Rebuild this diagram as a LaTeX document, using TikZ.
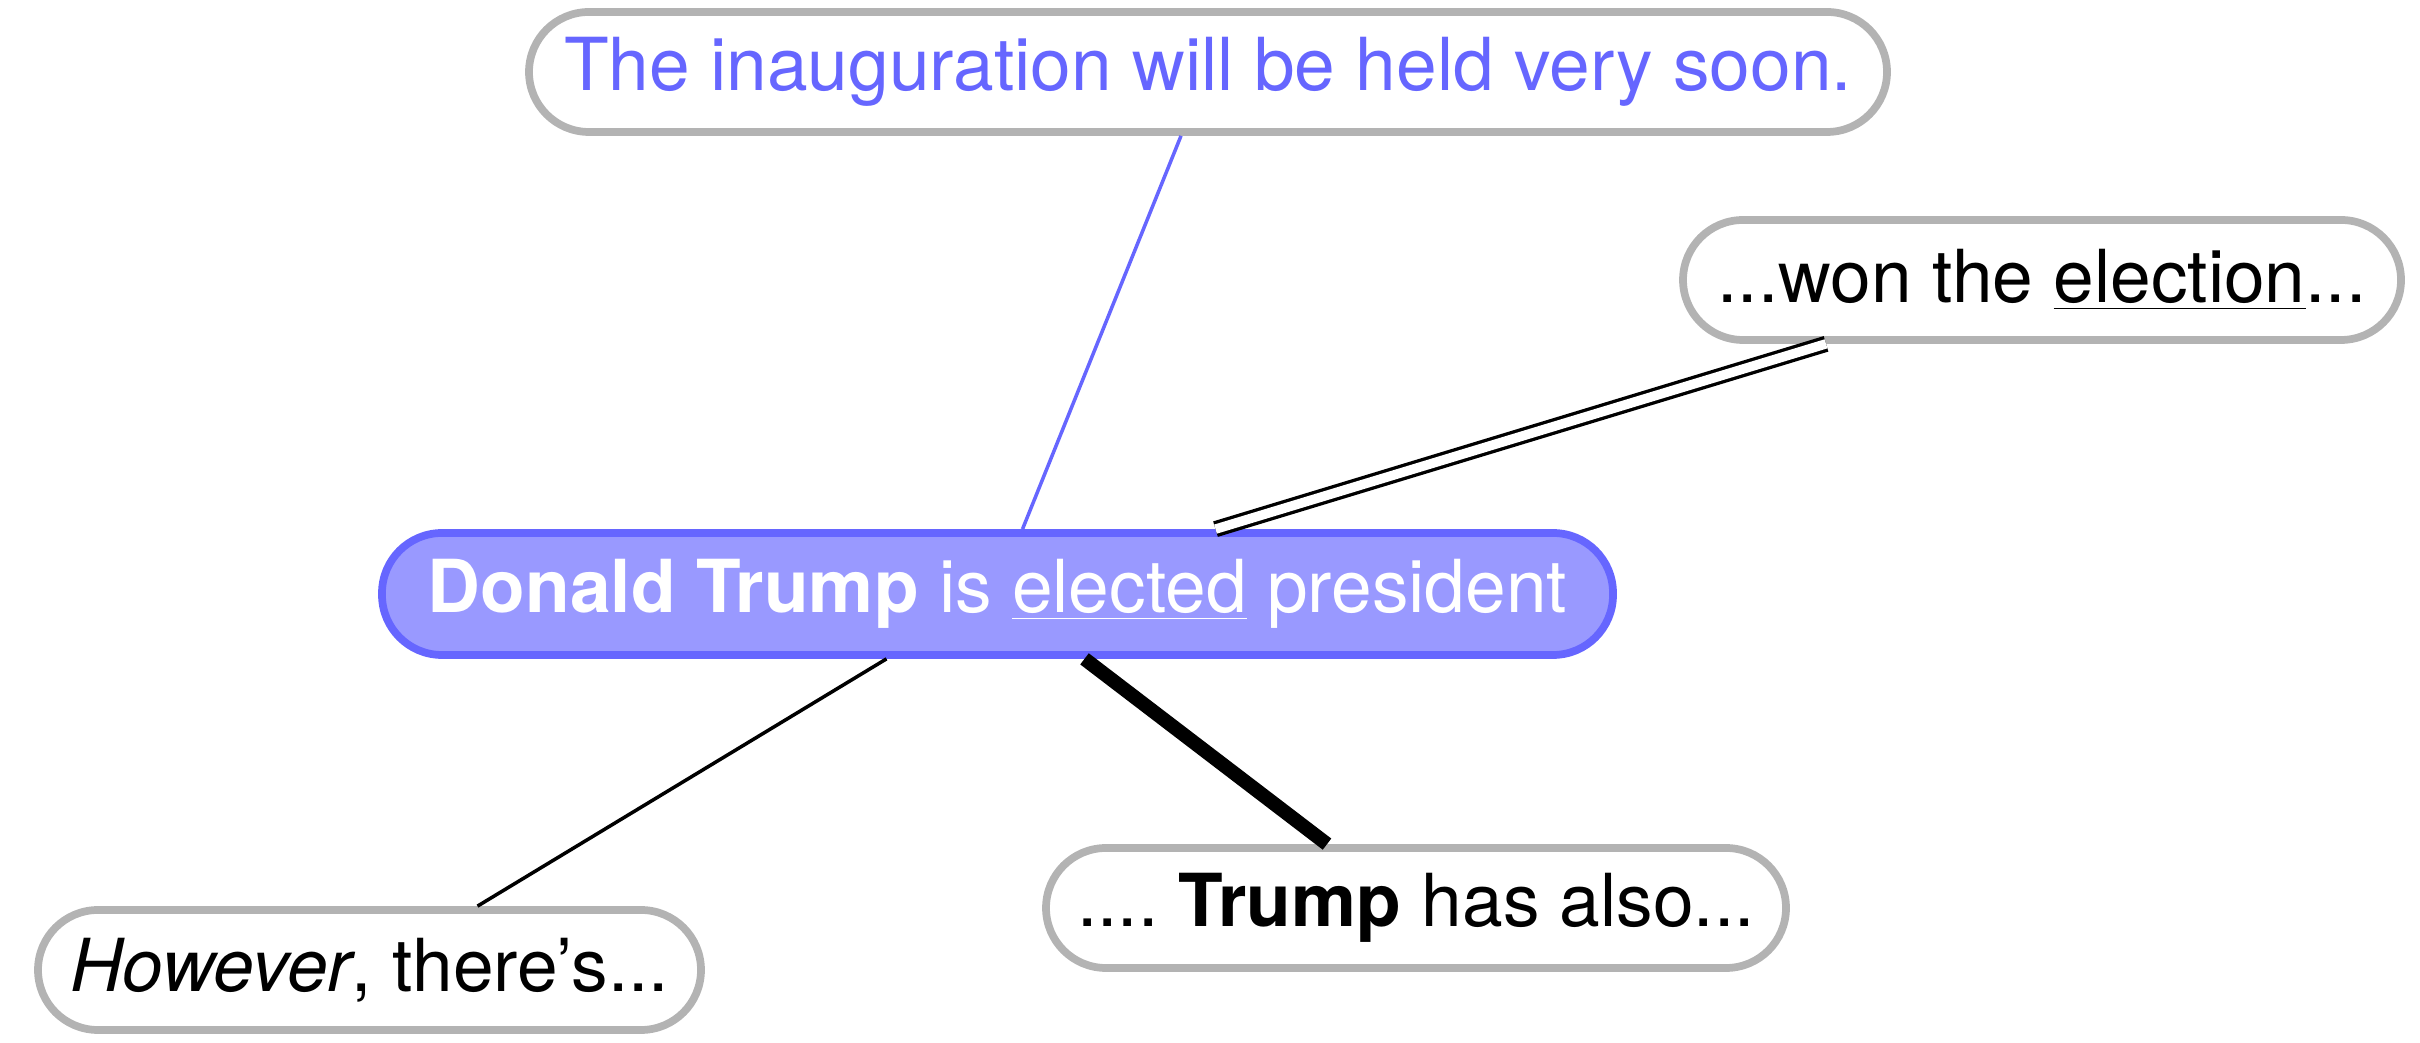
\documentclass[tikz,border=0pt]{standalone}
\usepackage{fontspec}
\setmainfont{TeX Gyre Heros}
\usepackage{xcolor}
\usepackage{tikz}
\usetikzlibrary{positioning,calc}
\definecolor{CBlue}{HTML}{6666FF}
\definecolor{CFill}{HTML}{9999FF}
\definecolor{CGray}{HTML}{B3B3B3}
\frenchspacing

\begin{document}
\begin{tikzpicture}[every node/.style={font=\fontsize{20.8}{25}\selectfont, text=black},
  sent/.style ={draw=CGray, line width=2.2pt, fill=white, rounded corners=0.6cm,
                minimum height=1.2cm, inner sep=0pt},
  focus/.style={draw=CBlue, line width=2.2pt, fill=CFill, rounded corners=0.6cm,
                minimum height=1.22cm, inner sep=0pt, text=white},
  thin/.style ={line width=1pt},
  heavy/.style={line width=4pt},
  twin/.style ={double, draw=black, double=white, line width=0.95pt, double distance=2.7pt}]
\useasboundingbox (0,0) rectangle (24.2,10.43);
\node[focus, minimum width=12.31cm] (main) at (9.975,4.49)
  {\textbf{Donald Trump} is \underline{elected} president};
\node[sent, minimum width=13.58cm, text=CBlue] (inaug) at (12.08,9.71)
  {The inauguration will be held very soon.};
\node[sent, minimum width=7.18cm] (won) at (20.42,7.63)
  {...won the \underline{election}...};
\node[sent, minimum width=6.63cm] (however) at (3.695,0.73)
  {\textit{However}, there's...};
\node[sent, minimum width=7.40cm] (also) at (14.16,1.35)
  {.... \textbf{Trump} has also...};
% links to the main sentence
\draw[thin, draw=CBlue] ([xshift=-0.27cm]inaug.south) -- ([xshift=0.25cm]main.north);
\draw[twin] ([xshift=-2.16cm]won.south) -- ([xshift=2.18cm]main.north);
\draw[thin] ([xshift=1.08cm]however.north) -- ([xshift=-1.11cm]main.south);
\draw[heavy] ([xshift=-0.89cm]also.north) -- ([xshift=0.87cm]main.south);
\end{tikzpicture}
\end{document}
